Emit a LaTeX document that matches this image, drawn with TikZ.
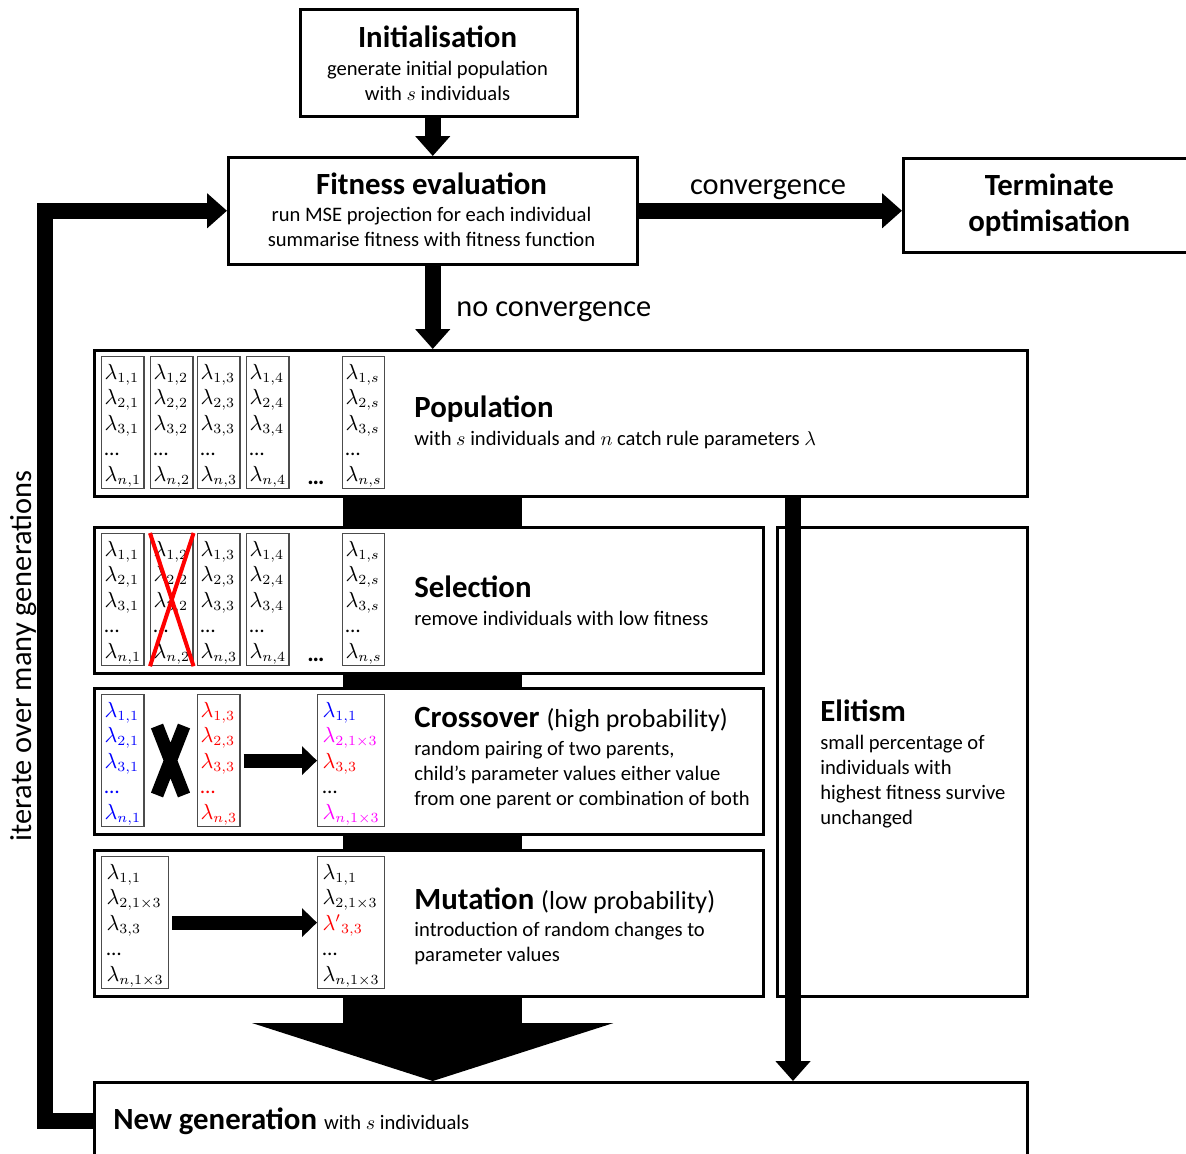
\documentclass[tikz,border=0pt]{standalone}
\usepackage{fontspec}
\setmainfont{Carlito}
\usepackage{amsmath}
\usepackage{xcolor}
\usepackage{tikz}
\usetikzlibrary{arrows.meta,backgrounds}
\definecolor{LamBlue}{RGB}{0,0,255}
\definecolor{LamRed}{RGB}{255,0,0}
\definecolor{LamMag}{RGB}{255,0,255}
\newcommand{\boxtitle}{\fontsize{15.4}{18}\selectfont\bfseries}
\newcommand{\boxbody}{\fontsize{10.3}{12.5}\selectfont}
\newcommand{\colstrut}{\rule{0pt}{10.5pt}}
\newcommand{\lamcol}[1]{\colstrut$\lambda_{1,#1}$\\$\lambda_{2,#1}$\\$\lambda_{3,#1}$\\\dots\\$\lambda_{n,#1}$}

\begin{document}
\begin{tikzpicture}[x=0.5pt,y=-0.5pt,
  box/.style={draw,line width=1.25pt,fill=white,inner sep=0pt,anchor=north west},
  col/.style={draw=black!70,line width=0.6pt,anchor=north west,align=left,inner xsep=1.5pt,inner ysep=0pt,
    minimum width=21pt,minimum height=66pt,font=\fontsize{10.5}{12.75}\selectfont},
  wcol/.style={col,minimum width=33.5pt},
  blk/.style={line width=8pt,-{Triangle[width=17pt,length=10pt]}},
  midarr/.style={line width=7pt,-{Triangle[width=14pt,length=7.5pt]}},
  bigarr/.style={line width=89.5pt,-{Triangle[width=180pt,length=29pt]}},
  ttl/.style={anchor=base west,inner sep=0pt,font=\boxtitle},
  bdy/.style={anchor=base west,inner sep=0pt,align=left,font=\boxbody},
  lbl/.style={anchor=base,inner sep=0pt,font=\fontsize{15.2}{18}\selectfont}]
  \useasboundingbox (0,0) rectangle (1186,1153);

  % main boxes
  \node[box,minimum width=138.5pt,minimum height=53.5pt] (init) at (299,8) {};
  \node[box,minimum width=204.5pt,minimum height=53.5pt] (fit) at (227,156) {};
  \node[box,minimum width=146pt,minimum height=47pt,align=center,font=\boxtitle] (term) at (902,157) {Terminate\\optimisation};
  \node[box,minimum width=466.5pt,minimum height=73pt] (pop) at (93,349) {};
  \node[box,minimum width=334.5pt,minimum height=73pt] (sel) at (93,526) {};
  \node[box,minimum width=334.5pt,minimum height=73pt] (cross) at (93,687) {};
  \node[box,minimum width=334.5pt,minimum height=73pt] (mut) at (93,849) {};
  \node[box,minimum width=125pt,minimum height=234.5pt] (elit) at (776,526) {};
  \node[box,minimum width=466.5pt,minimum height=39pt] (newgen) at (93,1081) {};

  % texts (multi-line nodes sit on their last baseline)
  \node[ttl,anchor=base] (initT) at (437.5,47.7) {Initialisation};
  \node[bdy,anchor=base,align=center] (initB) at (437.5,100) {generate initial population\\with $s$ individuals};
  \node[ttl,anchor=base] (fitT) at (431.5,194) {Fitness evaluation};
  \node[bdy,anchor=base,align=center] (fitB) at (431.5,246.7) {run MSE projection for each individual\\summarise fitness with fitness function};
  \node[ttl] (popT) at (414,417) {Population};
  \node[bdy] (popB) at (414,445) {with $s$ individuals and $n$ catch rule parameters $\lambda$};
  \node[ttl] (selT) at (414,597) {Selection};
  \node[bdy] (selB) at (414,625) {remove individuals with low fitness};
  \node[ttl] (crossT) at (414,727) {Crossover {\fontsize{13}{15}\selectfont\mdseries (high probability)}};
  \node[bdy] (crossB) at (414,805) {random pairing of two parents,\\child's parameter values either value\\from one parent or combination of both};
  \node[ttl] (mutT) at (414,909) {Mutation {\fontsize{13}{15}\selectfont\mdseries (low probability)}};
  \node[bdy] (mutB) at (414,961) {introduction of random changes to\\parameter values};
  \node[ttl] (elitT) at (820,721) {Elitism};
  \node[bdy] (elitB) at (820,824) {small percentage of\\individuals with\\highest fitness survive\\unchanged};
  \node[ttl] (newT) at (113,1129) {New generation {\boxbody\mdseries with $s$ individuals}};
  \node[lbl] (convL) at (768,194) {convergence};
  \node[lbl,anchor=base west] (noconvL) at (456,316) {no convergence};
  \node[lbl,rotate=90] (iterL) at (32,656) {iterate over many generations};

  % population
  \node[col] (p1) at (101,356) {\lamcol{1}};
  \node[col] (p2) at (150,356) {\lamcol{2}};
  \node[col] (p3) at (197,356) {\lamcol{3}};
  \node[col] (p4) at (246,356) {\lamcol{4}};
  \node[col] (ps) at (342,356) {\lamcol{s}};
  \node[anchor=base,inner sep=0pt,font=\large\bfseries] (pdots) at (316,484) {\dots};

  % selection
  \node[col] (s1) at (101,533) {\lamcol{1}};
  \node[col] (s2) at (150,533) {\lamcol{2}};
  \node[col] (s3) at (197,533) {\lamcol{3}};
  \node[col] (s4) at (246,533) {\lamcol{4}};
  \node[col] (ss) at (342,533) {\lamcol{s}};
  \node[anchor=base,inner sep=0pt,font=\large\bfseries] (sdots) at (316,661) {\dots};
  \draw[LamRed,line width=2pt] (s2.north west) -- (s2.south east) (s2.north east) -- (s2.south west);

  % crossover
  \node[col,text=LamBlue] (c1) at (101,694) {\lamcol{1}};
  \node[col,text=LamRed] (c2) at (197,694) {\lamcol{3}};
  \node[wcol] (c3) at (317,694) {\colstrut\textcolor{LamBlue}{$\lambda_{1,1}$}\\\textcolor{LamMag}{$\lambda_{2,1\times3}$}\\\textcolor{LamRed}{$\lambda_{3,3}$}\\\dots\\\textcolor{LamMag}{$\lambda_{n,1\times3}$}};
  \draw[line width=6.5pt] (157,726) -- (184,795) (184,726) -- (157,795);
  \draw[midarr,shorten <=1.5pt] (c2) -- (c3);

  % mutation
  \node[wcol] (m1) at (101,856) {\colstrut$\lambda_{1,1}$\\$\lambda_{2,1\times3}$\\$\lambda_{3,3}$\\\dots\\$\lambda_{n,1\times3}$};
  \node[wcol] (m2) at (317,856) {\colstrut$\lambda_{1,1}$\\$\lambda_{2,1\times3}$\\\textcolor{LamRed}{${\lambda'}_{3,3}$}\\\dots\\$\lambda_{n,1\times3}$};
  \draw[midarr,shorten <=1.5pt] (m1) -- (m2);

  % connectors
  \draw[blk] (init.south -| fit.north) -- (fit.north);
  \draw[blk] (fit.east) -- (fit.east -| term.west);
  \draw[blk] (fit.south) -- (fit.south |- pop.north);
  \coordinate (loopx) at (44.5,0);
  \draw[blk] (newgen.west) -- (newgen.west -| loopx) -- (fit.west -| loopx) -- (fit.west);
  \coordinate (elitx) at (793,0);
  \draw[blk] (pop.south -| elitx) -- (newgen.north -| elitx);
  \begin{pgfonlayer}{background}
    \draw[bigarr] (pop.south -| fit.south) -- (newgen.north -| fit.south);
  \end{pgfonlayer}
\end{tikzpicture}
\end{document}
